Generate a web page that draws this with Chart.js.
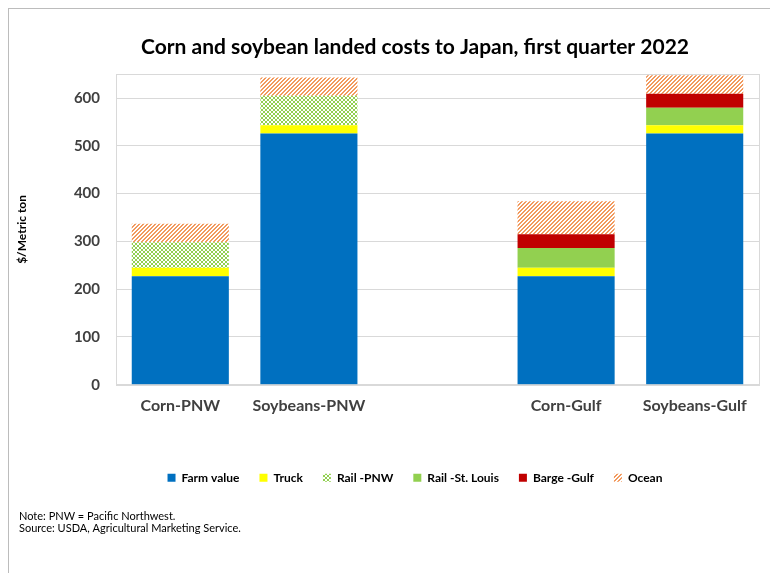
<!DOCTYPE html>
<html>
<head>
<meta charset="utf-8">
<script src="https://cdn.jsdelivr.net/npm/chart.js@4"></script>
<style>
  html, body { margin: 0; padding: 0; background: #fff; overflow: hidden; }
  #frame { position: absolute; left: 8px; top: 8px; width: 812px; height: 598px; border: 1px solid #bcbcbc; }
</style>
</head>
<body>
<div id="frame"><canvas id="landedChart"></canvas></div>
<script>
// data ($/metric ton)
const categories = ["Corn-PNW", "Soybeans-PNW", "", "Corn-Gulf", "Soybeans-Gulf"];
const farmValue = [227, 526, null, 227, 526];
const truck = [18, 17, null, 18, 17];
const railPNW = [53, 62, null, null, null];
const railStLouis = [null, null, null, 41, 37];
const bargeGulf = [null, null, null, 29, 29];
const ocean = [39, 38, null, 69, 39];
const yTicks = [0, 100, 200, 300, 400, 500, 600];

// Excel-like fill patterns
function checkerPattern(color) {
    const c = document.createElement("canvas");
    c.width = 4; c.height = 4;
    const g = c.getContext("2d");
    g.fillStyle = "#fff";
    g.fillRect(0, 0, 4, 4);
    g.fillStyle = color;
    g.fillRect(0, 0, 2, 2);
    g.fillRect(2, 2, 2, 2);
    return g.createPattern(c, "repeat");
}

function stripePattern(color) {
    const n = 4;
    const c = document.createElement("canvas");
    c.width = n; c.height = n;
    const g = c.getContext("2d");
    g.fillStyle = "#fff";
    g.fillRect(0, 0, n, n);
    g.fillStyle = color;
    for (let x = 0; x < n; x++) {
        for (let y = 0; y < n; y++) {
            if ((x + y) % n < 2) g.fillRect(x, y, 1, 1);
        }
    }
    return g.createPattern(c, "repeat");
}

// border round the plot area
const plotBorder = {
    id: "plotBorder",
    afterDraw(chart) {
        const a = chart.chartArea;
        const ctx = chart.ctx;
        ctx.save();
        ctx.strokeStyle = "#d9d9d9";
        ctx.lineWidth = 1;
        ctx.strokeRect(Math.round(a.left) + 0.5, Math.round(a.top) + 0.5, Math.round(a.right - a.left), Math.round(a.bottom - a.top));
        ctx.restore();
    }
};

const ctx = document.getElementById("landedChart").getContext("2d");
const landedChart = new Chart(ctx, {
    type: "bar",
    data: {
        labels: categories,
        datasets: [
            { label: "Farm value", data: farmValue, backgroundColor: "#0070C0" },
            { label: "Truck", data: truck, backgroundColor: "#FFFF00" },
            { label: "Rail -PNW", data: railPNW, backgroundColor: checkerPattern("#92D050") },
            { label: "Rail -St. Louis", data: railStLouis, backgroundColor: "#92D050" },
            { label: "Barge -Gulf", data: bargeGulf, backgroundColor: "#C00000" },
            { label: "Ocean", data: ocean, backgroundColor: stripePattern("#F29A5E") },
        ],
    },
    options: {
        responsive: true,
        maintainAspectRatio: false,
        animation: false,
        layout: { padding: { left: 10, right: 10, top: 26, bottom: 72 } },
        datasets: { bar: { barPercentage: 0.755, categoryPercentage: 1, borderWidth: 0 } },
        scales: {
            x: {
                stacked: true,
                grid: { display: false, drawTicks: false },
                border: { display: true, color: "#d9d9d9" },
                ticks: { color: "#404040", padding: 12, font: { family: "Lato", size: 16, weight: "bold" } },
                afterFit(axis) {
                    axis.height = 67;
                },
            },
            y: {
                stacked: true,
                min: 0,
                max: 650,
                afterBuildTicks(axis) {
                    axis.ticks = yTicks.map((v) => ({ value: v }));
                },
                afterFit(axis) {
                    axis.width = 97;
                },
                grid: { color: "#d9d9d9", drawTicks: false },
                border: { display: true, color: "#d9d9d9" },
                ticks: { color: "#404040", padding: 16, font: { family: "Lato", size: 15, weight: "bold" } },
                title: {
                    display: true,
                    text: "$/Metric ton",
                    color: "#000",
                    padding: { top: -4, bottom: 0 },
                    font: { family: "Lato", size: 12, weight: "bold" },
                },
            },
            // empty right-hand box so the plot ends where the reference's does
            spacer: {
                type: "linear",
                position: "right",
                grid: { display: false, drawTicks: false },
                border: { display: false },
                ticks: { display: false },
                afterFit(axis) {
                    axis.width = 52;
                },
            },
        },
        plugins: {
            title: {
                display: true,
                text: "Corn and soybean landed costs to Japan, first quarter 2022",
                color: "#000",
                padding: { top: 0, bottom: 14 },
                font: { family: "Lato", size: 21, weight: "bold" },
            },
            subtitle: {
                display: true,
                position: "bottom",
                align: "start",
                text: ["Note: PNW = Pacific Northwest.", "Source: USDA, Agricultural Marketing Service."],
                color: "#000",
                padding: { top: 16, bottom: 0 },
                font: { family: "Lato", size: 11, lineHeight: 1.15 },
            },
            legend: {
                position: "bottom",
                labels: {
                    boxWidth: 8,
                    boxHeight: 8,
                    padding: 20,
                    color: "#000",
                    font: { family: "Lato", size: 12, weight: "bold" },
                },
            },
            tooltip: { enabled: false },
        },
    },
    plugins: [plotBorder],
});
</script>
</body>
</html>
